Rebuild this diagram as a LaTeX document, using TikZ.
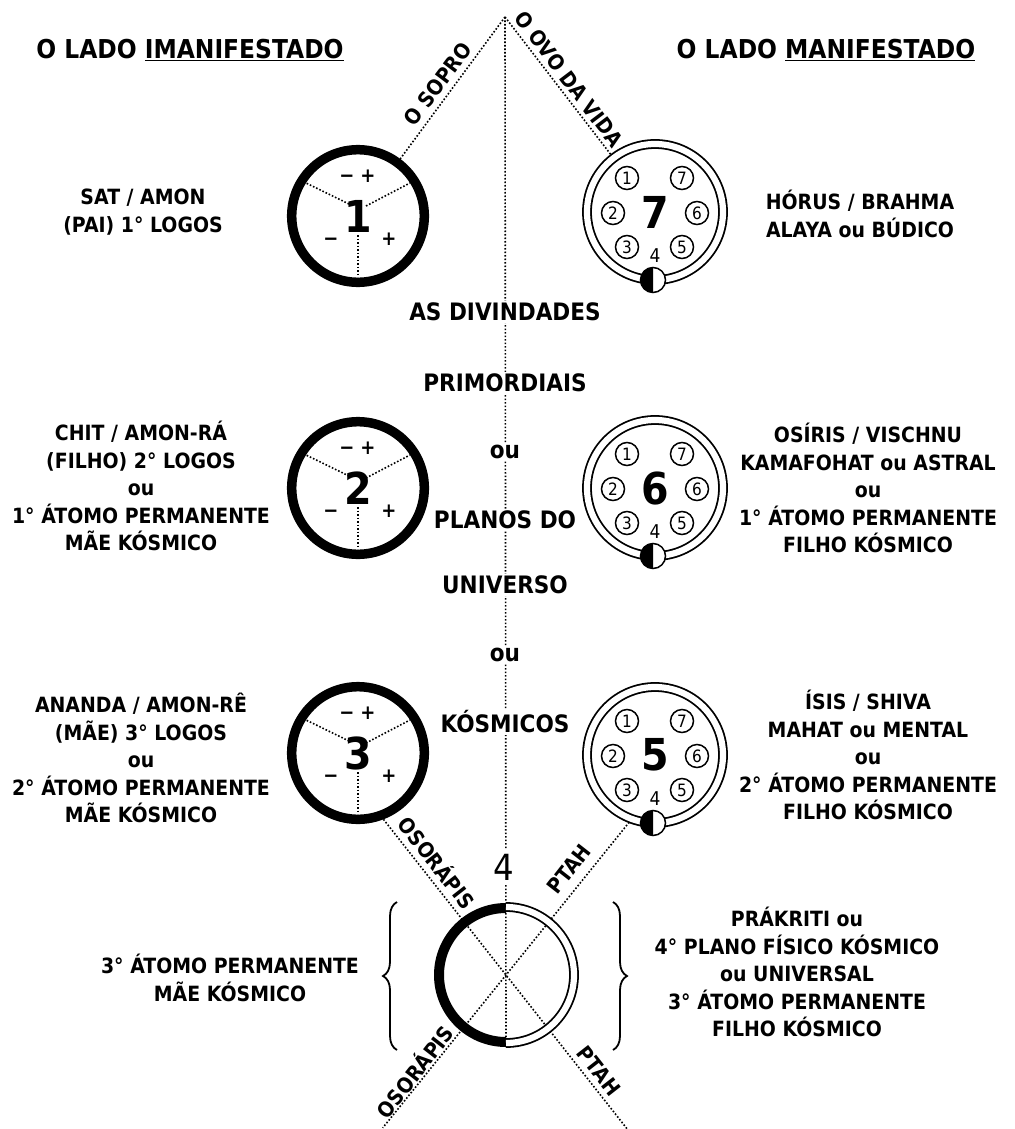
\documentclass[tikz,border=0pt]{standalone}
\usepackage{fontspec}
\setmainfont{DejaVu Sans}[FakeStretch=0.9]
\usetikzlibrary{calc,decorations.pathreplacing}
\newcommand\solidatom[2]{%
  \draw[dots] ($(#1)+(-9,12)$) -- ($(#1)+(-52,33)$);
  \draw[dots] ($(#1)+(8,10)$) -- ($(#1)+(52,33)$);
  \draw[dots] ($(#1)+(0,-19)$) -- ($(#1)+(0,-61)$);
  \draw[line width=9.5pt] (#1) circle[radius=66.3];
  \node[bignum] at (#1) {#2};
  \node[sign] at ($(#1)+(-11,41)$) {−};
  \node[sign] at ($(#1)+(10,41)$) {+};
  \node[sign] at ($(#1)+(-27,-22)$) {−};
  \node[sign] at ($(#1)+(31,-22)$) {+};
}
\newcommand\ringatom[2]{%
  \draw[ring] (#1) circle[radius=68];
  \node[smallc] at ($(#1)+(-28,34)$) {1};
  \node[smallc] at ($(#1)+(27,34)$) {7};
  \node[smallc] at ($(#1)+(-42,-1)$) {2};
  \node[smallc] at ($(#1)+(42,-1)$) {6};
  \node[smallc] at ($(#1)+(-28,-35)$) {3};
  \node[smallc] at ($(#1)+(27,-35)$) {5};
  \node[font=\fontsize{19}{19}\selectfont, inner sep=0pt] at ($(#1)+(0,-44)$) {4};
  \node[bignum] at (#1) {#2};
  \fill[white] ($(#1)+(-2,-68)$) circle[radius=12.5];
  \fill ($(#1)+(-2,-55.5)$) arc[start angle=90, end angle=270, radius=12.5] -- cycle;
  \draw[line width=1.5pt] ($(#1)+(-2,-68)$) circle[radius=12.5];
}
\begin{document}
\begin{tikzpicture}[x=1pt,y=1pt,
  dots/.style={line width=1.6pt, dash pattern=on 1.6pt off 1.9pt},
  slot/.style={circle, minimum size=142pt, inner sep=0pt, outer sep=0pt},
  side/.style={font=\bfseries\fontsize{21}{27.5}\selectfont, align=center, inner sep=0pt},
  hdr/.style={font=\bfseries\fontsize{26}{30}\selectfont, inner sep=0pt},
  mid/.style={font=\bfseries\fontsize{24}{28}\selectfont, fill=white, inner sep=1.5pt},
  rot/.style={font=\bfseries\fontsize{21}{22}\selectfont, inner sep=0pt},
  bignum/.style={font=\bfseries\fontsize{44}{44}\selectfont, inner sep=0pt},
  sign/.style={font=\bfseries\fontsize{20}{20}\selectfont, inner sep=0pt, text height=15pt, text depth=0pt},
  smallc/.style={circle, draw, fill=white, line width=1.5pt, minimum size=23pt, inner sep=0pt, font=\fontsize{17}{17}\selectfont},
  ring/.style={line width=1.8pt, double, double distance=6.2pt},
]
\useasboundingbox (0,0) rectangle (1014,-1129);

\coordinate (apex) at (505,-17);
\node[slot] (c1) at (358,-216) {};
\node[slot] (c2) at (358,-488) {};
\node[slot] (c3) at (358,-753) {};
\node[slot, minimum size=144pt] (c7) at (655,-212) {};
\node[slot, minimum size=144pt] (c6) at (655,-488) {};
\node[slot, minimum size=144pt] (c5) at (655,-755) {};
\node[slot, minimum size=144pt] (c4) at (506,-975) {};

% connectors
\draw[dots] (apex) -- (c1);
\draw[dots] (apex) -- (c7);
\draw[dots] (apex) -- (c4.south);
\draw[dots] (c3.-69) -- ($(c3.-69)!2!(c4.center)$);
\draw[dots] (c5.-111) -- ($(c5.-111)!2!(c4.center)$);

% atoms
\solidatom{c1}{1}
\solidatom{c2}{2}
\solidatom{c3}{3}
\ringatom{c7}{7}
\ringatom{c6}{6}
\ringatom{c5}{5}

% circle 4
\draw[line width=10pt] ($(c4)+(0,67)$) arc[start angle=90,end angle=270,radius=67];
\draw[ring] ($(c4)+(0,-68)$) arc[start angle=-90,end angle=90,radius=68];

% braces
\draw[line width=1.8pt, decorate, decoration={brace, amplitude=14pt}] (397,-1050) -- (397,-902);
\draw[line width=1.8pt, decorate, decoration={brace, amplitude=14pt}] (613,-902) -- (613,-1050);

% headers
\node[hdr] (hl) at (190,-50) {O LADO \underline{IMANIFESTADO}};
\node[hdr] (hr) at (826,-50) {O LADO \underline{MANIFESTADO}};

% rotated labels
\node[rot, rotate=53] (sopro) at (438,-84) {O SOPRO};
\node[rot, rotate=-53] (ovo) at (569,-79) {O OVO DA VIDA};
\node[rot, rotate=-52] (os1) at (438,-862) {OSORÁPIS};
\node[rot, rotate=52] (pt1) at (569,-869) {PTAH};
\node[rot, rotate=52] (os2) at (414,-1071) {OSORÁPIS};
\node[rot, rotate=-52] (pt2) at (599,-1071) {PTAH};

% centre column
\node[mid] (m1) at (505,-312) {AS DIVINDADES};
\node[mid] (m2) at (505,-383) {PRIMORDIAIS};
\node[mid] (m3) at (505,-452) {ou};
\node[mid] (m4) at (505,-520) {PLANOS DO};
\node[mid] (m5) at (505,-585) {UNIVERSO};
\node[mid] (m6) at (505,-655) {ou};
\node[mid] (m7) at (505,-722) {KÓSMICOS};
\node[mid, font=\fontsize{36}{36}\selectfont, inner sep=4pt] (m8) at (504,-867) {4};

% side texts
\node[side] (t1) at (143,-212) {SAT / AMON\\(PAI) 1° LOGOS};
\node[side] (t2) at (141,-486) {CHIT / AMON-RÁ\\(FILHO) 2° LOGOS\\ou\\1° ÁTOMO PERMANENTE\\MÃE KÓSMICO};
\node[side] (t3) at (141,-758) {ANANDA / AMON-RÊ\\(MÃE) 3° LOGOS\\ou\\2° ÁTOMO PERMANENTE\\MÃE KÓSMICO};
\node[side] (t7) at (860,-214) {HÓRUS / BRAHMA\\ALAYA ou BÚDICO};
\node[side] (t6) at (868,-488) {OSÍRIS / VISCHNU\\KAMAFOHAT ou ASTRAL\\ou\\1° ÁTOMO PERMANENTE\\FILHO KÓSMICO};
\node[side] (t5) at (868,-755) {ÍSIS / SHIVA\\MAHAT ou MENTAL\\ou\\2° ÁTOMO PERMANENTE\\FILHO KÓSMICO};
\node[side] (t4l) at (230,-978) {3° ÁTOMO PERMANENTE\\MÃE KÓSMICO};
\node[side] (t4r) at (797,-972) {PRÁKRITI ou\\4° PLANO FÍSICO KÓSMICO\\ou UNIVERSAL\\3° ÁTOMO PERMANENTE\\FILHO KÓSMICO};
\end{tikzpicture}
\end{document}
